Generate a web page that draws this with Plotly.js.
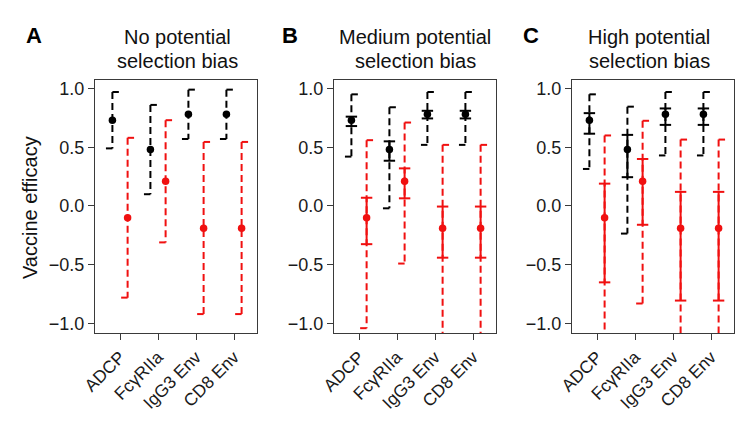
<!DOCTYPE html>
<html>
<head>
<meta charset="utf-8">
<script src="https://cdn.plot.ly/plotly-3.0.1.min.js"></script>
<style>html,body{margin:0;padding:0;background:#fff;}#chart{width:752px;height:430px;}</style>
</head>
<body>
<div id="chart"></div>
<script>
// ---------------- DATA ----------------
const categories = ['ADCP', 'Fc\u03b3RIIa', 'IgG3 Env', 'CD8 Env'];
const panelLetters = ['A', 'B', 'C'];
const panelTitleLine1 = ['No potential', 'Medium potential', 'High potential'];
const panelTitleLine2 = ['selection bias', 'selection bias', 'selection bias'];
const yTicks = [-1.0, -0.5, 0.0, 0.5, 1.0];

// Panel A (no potential selection bias)
const A_blackEst = [0.73, 0.48, 0.78, 0.78];
const A_blackLo  = [0.49, 0.10, 0.57, 0.57];
const A_blackHi  = [0.97, 0.86, 0.99, 0.99];
const A_redEst   = [-0.10, 0.21, -0.19, -0.19];
const A_redLo    = [-0.78, -0.31, -0.92, -0.92];
const A_redHi    = [0.58, 0.73, 0.545, 0.545];

// Panel B (medium potential selection bias)
const B_blackEst = [0.73, 0.48, 0.78, 0.78];
const B_blackLo  = [0.42, -0.02, 0.52, 0.52];
const B_blackHi  = [0.95, 0.84, 0.97, 0.97];
const B_blackInnerLo = [0.68, 0.385, 0.745, 0.745];
const B_blackInnerHi = [0.76, 0.55, 0.81, 0.81];
const B_redEst   = [-0.10, 0.21, -0.19, -0.19];
const B_redLo    = [-1.04, -0.49, -1.20, -1.20];
const B_redHi    = [0.56, 0.71, 0.52, 0.52];
const B_redInnerLo = [-0.325, 0.065, -0.44, -0.44];
const B_redInnerHi = [0.07, 0.32, -0.005, -0.005];

// Panel C (high potential selection bias)
const C_blackEst = [0.73, 0.48, 0.78, 0.78];
const C_blackLo  = [0.315, -0.235, 0.43, 0.43];
const C_blackHi  = [0.95, 0.845, 0.97, 0.97];
const C_blackInnerLo = [0.615, 0.245, 0.69, 0.69];
const C_blackInnerHi = [0.79, 0.605, 0.83, 0.83];
const C_redEst   = [-0.10, 0.21, -0.19, -0.19];
const C_redLo    = [-1.20, -0.83, -1.20, -1.20];
const C_redHi    = [0.60, 0.725, 0.565, 0.565];
const C_redInnerLo = [-0.65, -0.16, -0.805, -0.805];
const C_redInnerHi = [0.19, 0.40, 0.12, 0.12];

// ---------------- STYLE ----------------
const BLACK = '#000000';
const RED = '#f01010';
const OFF = 0.2;      // horizontal offset of black/red groups
const HALFCAP = 0.17; // half-cap length for dashed intervals
const CAP = 0.15;     // cap half-width for solid intervals
const FONT = 'Liberation Sans, Arial, Helvetica, sans-serif';
const AXC = '#3a3a3a';

const panels = [
  {black: {est: A_blackEst, lo: A_blackLo, hi: A_blackHi}, red: {est: A_redEst, lo: A_redLo, hi: A_redHi}},
  {black: {est: B_blackEst, lo: B_blackLo, hi: B_blackHi, ilo: B_blackInnerLo, ihi: B_blackInnerHi},
   red: {est: B_redEst, lo: B_redLo, hi: B_redHi, ilo: B_redInnerLo, ihi: B_redInnerHi}},
  {black: {est: C_blackEst, lo: C_blackLo, hi: C_blackHi, ilo: C_blackInnerLo, ihi: C_blackInnerHi},
   red: {est: C_redEst, lo: C_redLo, hi: C_redHi, ilo: C_redInnerLo, ihi: C_redInnerHi}}
];

const traces = [];
function groupTraces(g, shift, color, xa, ya) {
  const xs = categories.map((c, i) => i + 1 + shift);
  const dx = [], dy = [], hx = [], hy = [], sx = [], sy = [];
  xs.forEach((x, i) => {
    dx.push(x, x, null); dy.push(g.hi[i], g.lo[i], null);
    hx.push(x, x + HALFCAP, null, x - HALFCAP, x, null);
    hy.push(g.hi[i], g.hi[i], null, g.lo[i], g.lo[i], null);
    if (g.ilo) {
      sx.push(x - CAP, x + CAP, null, x, x, null, x - CAP, x + CAP, null);
      sy.push(g.ihi[i], g.ihi[i], null, g.ihi[i], g.ilo[i], null, g.ilo[i], g.ilo[i], null);
    }
  });
  const common = {xaxis: xa, yaxis: ya, showlegend: false, hoverinfo: 'skip', type: 'scatter'};
  traces.push(Object.assign({x: dx, y: dy, mode: 'lines', line: {color: color, width: 2, dash: '7px,4px'}}, common));
  traces.push(Object.assign({x: hx, y: hy, mode: 'lines', line: {color: color, width: 2}}, common));
  if (g.ilo) traces.push(Object.assign({x: sx, y: sy, mode: 'lines', line: {color: color, width: 2}}, common));
  traces.push(Object.assign({x: xs, y: g.est, mode: 'markers', marker: {color: color, size: 7.5}, cliponaxis: false}, common));
}

const xDomains = [[95 / 752, 257 / 752], [334 / 752, 496 / 752], [572 / 752, 734 / 752]];
const yDomain = [97 / 430, 350 / 430];
const titleCenters = [177, 415, 649];
const letterCenters = [34, 290, 531];

const layout = {
  width: 752, height: 430,
  margin: {l: 0, r: 0, t: 0, b: 0},
  paper_bgcolor: '#fff', plot_bgcolor: '#fff',
  font: {family: FONT, color: '#1a1a1a'},
  annotations: []
};

panels.forEach((p, k) => {
  const sfx = k === 0 ? '' : String(k + 1);
  const xa = 'x' + sfx, ya = 'y' + sfx;
  groupTraces(p.black, -OFF, BLACK, xa, ya);
  groupTraces(p.red, OFF, RED, xa, ya);
  layout['xaxis' + sfx] = {
    domain: xDomains[k], anchor: ya, range: [0.342, 4.605],
    tickvals: categories.map((c, i) => i + 1), ticktext: categories,
    tickangle: -45, ticks: 'outside', ticklen: 6, tickwidth: 1, tickcolor: AXC,
    showline: true, mirror: true, linecolor: AXC, linewidth: 1,
    showgrid: false, zeroline: false, fixedrange: true,
    tickfont: {size: 17.5, family: FONT, color: '#1a1a1a'}
  };
  layout['yaxis' + sfx] = {
    domain: yDomain, anchor: xa, range: [-1.081, 1.072],
    tickvals: yTicks, tickformat: '.1f',
    ticks: 'outside', ticklen: 6, tickwidth: 1, tickcolor: AXC,
    showline: true, mirror: true, linecolor: AXC, linewidth: 1,
    showgrid: false, zeroline: false, fixedrange: true,
    tickfont: {size: 18, family: FONT, color: '#1a1a1a'}
  };
  layout.annotations.push({
    text: panelTitleLine1[k], xref: 'paper', yref: 'paper', x: titleCenters[k] / 752, y: (430 - 37) / 430,
    xanchor: 'center', yanchor: 'middle', showarrow: false,
    font: {size: 20, family: FONT, color: '#111'}
  });
  layout.annotations.push({
    text: panelTitleLine2[k], xref: 'paper', yref: 'paper', x: titleCenters[k] / 752, y: (430 - 61) / 430,
    xanchor: 'center', yanchor: 'middle', showarrow: false,
    font: {size: 20, family: FONT, color: '#111'}
  });
  layout.annotations.push({
    text: '<b>' + panelLetters[k] + '</b>', xref: 'paper', yref: 'paper',
    x: letterCenters[k] / 752, y: (430 - 36) / 430,
    xanchor: 'center', yanchor: 'middle', showarrow: false,
    font: {size: 22, family: FONT, color: '#000'}
  });
});

layout.annotations.push({
  text: 'Vaccine efficacy', xref: 'paper', yref: 'paper', x: 30 / 752, y: (430 - 208) / 430,
  xanchor: 'center', yanchor: 'middle', textangle: -90, showarrow: false,
  font: {size: 20, family: FONT, color: '#111'}
});

Plotly.newPlot('chart', traces, layout, {staticPlot: true, displayModeBar: false});
</script>
</body>
</html>
